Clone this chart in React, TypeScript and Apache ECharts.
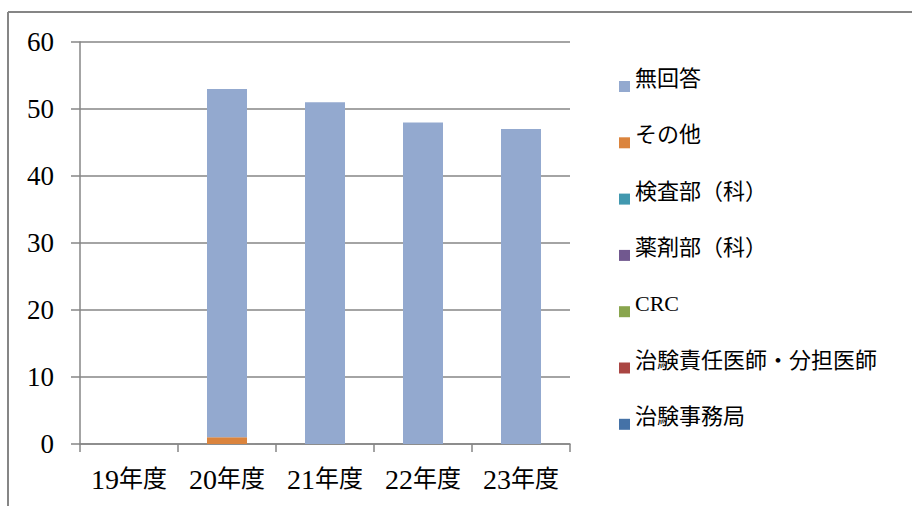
import React, { useEffect, useRef } from "react";
import * as echarts from "echarts";

const categories = ["19年度", "20年度", "21年度", "22年度", "23年度"];
const seriesNames = [
  "治験事務局",
  "治験責任医師・分担医師",
  "CRC",
  "薬剤部（科）",
  "検査部（科）",
  "その他",
  "無回答",
];
const seriesColors = ["#4572A7", "#AA4643", "#89A54E", "#71588F", "#4198AF", "#DB843D", "#93A9CF"];
const jimukyoku = [0, 0, 0, 0, 0];
const ishi = [0, 0, 0, 0, 0];
const crc = [0, 0, 0, 0, 0];
const yakuzai = [0, 0, 0, 0, 0];
const kensa = [0, 0, 0, 0, 0];
const sonota = [0, 1, 0, 0, 0];
const mukaito = [0, 52, 51, 48, 47];
const seriesValues = [jimukyoku, ishi, crc, yakuzai, kensa, sonota, mukaito];
const yMin = 0;
const yMax = 60;
const yInterval = 10;

const FONT = "'Liberation Serif', 'Noto Sans CJK JP', serif";
const GRAY = "#868686";
const LEGEND_ICON = "path://M0,0 L0,0 M0,16 L11,16 L11,27 L0,27 Z";

export default function App() {
  const ref = useRef<HTMLDivElement>(null);
  useEffect(() => {
    if (!ref.current) return;
    const chart = echarts.init(ref.current, undefined, { renderer: "svg" });
    chart.setOption({
      animation: false,
      backgroundColor: "#ffffff",
      grid: { left: 80, right: 342, top: 42, bottom: 62, containLabel: false },
      legend: {
        orient: "vertical",
        left: 614,
        top: 60,
        icon: LEGEND_ICON,
        itemWidth: 11,
        itemHeight: 27,
        itemGap: 29.3,
        itemStyle: { borderWidth: 0 },
        data: seriesNames.slice().reverse(),
        textStyle: {
          fontFamily: FONT,
          fontSize: 22,
          lineHeight: 22,
          color: "#000",
        },
      },
      xAxis: {
        type: "category",
        data: categories,
        axisLine: { lineStyle: { color: GRAY, width: 1.5 } },
        axisTick: { show: true, length: 8, lineStyle: { color: GRAY, width: 1.5 } },
        axisLabel: {
          color: "#000",
          margin: 21,
          interval: 0,
          formatter: (v: string) => {
            const m = v.match(/^(\d+)(.*)$/);
            return m ? `{n|${m[1]}}{j|${m[2]}}` : v;
          },
          rich: {
            n: { fontFamily: FONT, fontSize: 28, color: "#000" },
            j: { fontFamily: FONT, fontSize: 24, color: "#000" },
          },
        },
      },
      yAxis: {
        type: "value",
        min: yMin,
        max: yMax,
        interval: yInterval,
        axisLine: { show: true, lineStyle: { color: GRAY, width: 1.5 } },
        axisTick: { show: true, length: 9, lineStyle: { color: GRAY, width: 1.5 } },
        splitLine: { show: true, lineStyle: { color: GRAY, width: 1.5 } },
        axisLabel: { fontFamily: FONT, fontSize: 27, color: "#000", margin: 26 },
      },
      series: seriesNames.map((name, i) => ({
        name,
        type: "bar",
        stack: "total",
        barWidth: 40,
        data: seriesValues[i],
        itemStyle: { color: seriesColors[i] },
      })),
      graphic: [
        { type: "line", shape: { x1: 8, y1: 12, x2: 912, y2: 12 }, style: { stroke: GRAY, lineWidth: 2 } },
        { type: "line", shape: { x1: 8, y1: 12, x2: 8, y2: 506 }, style: { stroke: GRAY, lineWidth: 2 } },
      ],
    });
    return () => chart.dispose();
  }, []);
  return (
    <div
      ref={ref}
      style={{ position: "absolute", left: 0, top: 0, width: 912, height: 506 }}
    />
  );
}
